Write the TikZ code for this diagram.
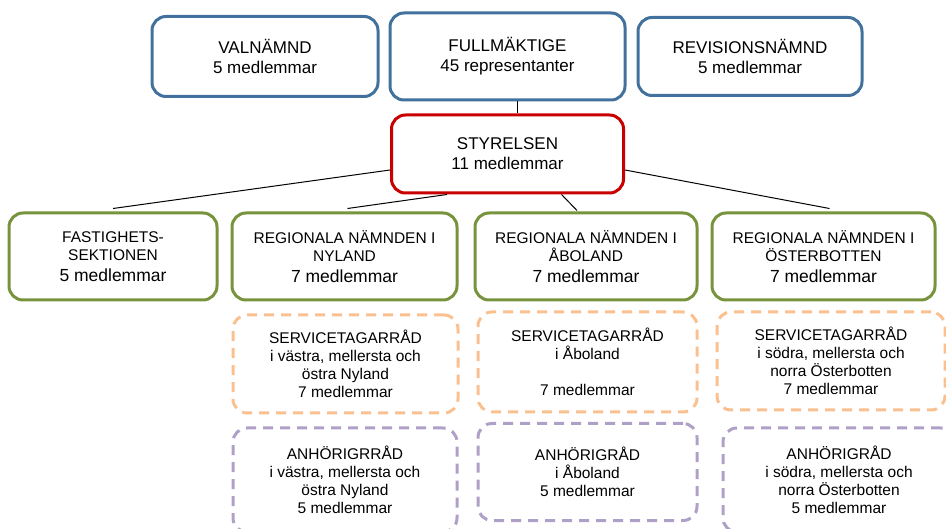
\documentclass[tikz,border=0pt]{standalone}
\usepackage{fontspec}
\setmainfont{Liberation Sans}
\usepackage{tikz}
\usetikzlibrary{positioning}
\definecolor{colorTop}{RGB}{65,113,156}
\definecolor{colorBoard}{RGB}{200,0,0}
\definecolor{colorSection}{RGB}{119,147,60}
\definecolor{colorService}{RGB}{250,192,144}
\definecolor{colorRelative}{RGB}{175,160,200}
\newcommand{\capsz}{\fontsize{15.5}{18}\selectfont}
\newcommand{\memsz}{\fontsize{17.5}{20}\selectfont}
\tikzset{orgbox/.style={draw, rounded corners=14pt, line width=3pt, align=center, inner sep=2pt, text=black}}

\begin{document}
\begin{tikzpicture}[x=1pt, y=-1pt, node distance=12pt,
  topbox/.style={orgbox, draw=colorTop, font=\fontsize{17}{20}\selectfont},
  boardbox/.style={orgbox, draw=colorBoard, font=\fontsize{17}{20}\selectfont, minimum width=232pt, minimum height=78pt},
  sectionbox/.style={orgbox, draw=colorSection, font=\capsz, minimum height=87pt},
  servicebox/.style={orgbox, draw=colorService, dash pattern=on 10pt off 7pt, font=\capsz},
  relativebox/.style={orgbox, draw=colorRelative, dash pattern=on 10pt off 7pt, font=\capsz},
  link/.style={black, line width=1pt}]
\useasboundingbox (0,0) rectangle (946,529);
\clip (0,0) rectangle (946,529);
\node[topbox, minimum width=235pt, minimum height=87pt] (full) at (507.5,56.5) {FULLMÄKTIGE\\45 representanter};
\node[topbox, minimum width=226pt, minimum height=80pt, left=9pt of full] (valn) {VALNÄMND\\5 medlemmar};
\node[topbox, minimum width=224pt, minimum height=78pt, right=10pt of full] (rev) {REVISIONSNÄMND\\5 medlemmar};
\node[boardbox, below=12pt of full] (styr) {STYRELSEN\\11 medlemmar};
\node[sectionbox, minimum width=208pt] (fast) at (113,256.5) {FASTIGHETS-\\SEKTIONEN\\[3pt]{\memsz 5 medlemmar}};
\node[sectionbox, minimum width=225pt, right=12pt of fast] (nyl) {REGIONALA NÄMNDEN I\\NYLAND\\[3pt]{\memsz 7 medlemmar}};
\node[sectionbox, minimum width=222pt, right=15pt of nyl] (abo) {REGIONALA NÄMNDEN I\\ÅBOLAND\\[3pt]{\memsz 7 medlemmar}};
\node[sectionbox, minimum width=223pt, right=12pt of abo] (ost) {REGIONALA NÄMNDEN I\\ÖSTERBOTTEN\\[3pt]{\memsz 7 medlemmar}};
\node[servicebox, minimum width=225pt, minimum height=98pt] (sNyl) at (345.5,364) {SERVICETAGARRÅD\\i västra, mellersta och\\östra Nyland\\7 medlemmar};
\node[servicebox, minimum width=219pt, minimum height=100pt] (sAbo) at (587.5,362) {SERVICETAGARRÅD\\i Åboland\\[18pt]7 medlemmar};
\node[servicebox, minimum width=228pt, minimum height=98pt] (sOst) at (831,361) {SERVICETAGARRÅD\\i södra, mellersta och\\norra Österbotten\\7 medlemmar};
\node[relativebox, minimum width=224pt, minimum height=104pt] (aNyl) at (345,480) {ANHÖRIGRRÅD\\i västra, mellersta och\\östra Nyland\\5 medlemmar};
\node[relativebox, minimum width=219pt, minimum height=97pt] (aAbo) at (587.5,472) {ANHÖRIGRÅD\\i Åboland\\5 medlemmar};
\node[relativebox, minimum width=232pt, minimum height=104pt] (aOst) at (839,480) {ANHÖRIGRÅD\\i södra, mellersta och\\norra Österbotten\\5 medlemmar};
\draw[link] ([xshift=10pt]full.south) -- ([xshift=10pt]full.south |- styr.north);
\draw[link] ([yshift=-16pt]styr.west) -- ([yshift=3pt]fast.north);
\draw[link] ([xshift=57pt]styr.south west) -- ([xshift=3pt, yshift=3pt]nyl.north);
\draw[link] ([xshift=54pt]styr.south) -- ([xshift=-9pt, yshift=1pt]abo.north);
\draw[link] ([yshift=-16pt]styr.east) -- ([xshift=6pt, yshift=3pt]ost.north);
\end{tikzpicture}
\end{document}
